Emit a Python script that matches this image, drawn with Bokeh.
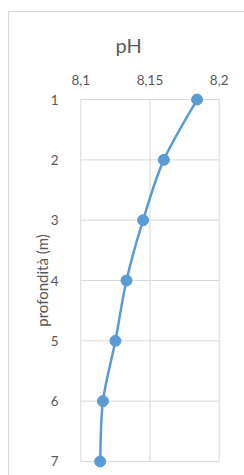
import numpy as np
from bokeh.plotting import figure
from bokeh.models import Range1d, FixedTicker
from bokeh.embed import file_html
from bokeh.resources import INLINE

depth = [1, 2, 3, 4, 5, 6, 7]
ph = [8.184, 8.160, 8.145, 8.133, 8.125, 8.116, 8.114]
x_ticks = [8.1, 8.15, 8.2]
x_tick_labels = {8.1: "8,1", 8.15: "8,15", 8.2: "8,2"}

FONT = "Lato"
GREY = "#595959"
GRID = "#d9d9d9"
BLUE = "#5b9bd5"

xpad = 0.006
ypad = 0.15

p = figure(width=235, height=463, output_backend="svg", toolbar_location=None,
           x_range=Range1d(x_ticks[0] - xpad, x_ticks[-1] + xpad),
           y_range=Range1d(depth[-1] + ypad, depth[0] - ypad),
           x_axis_location="above", title="pH",
           min_border_left=63, min_border_right=17, min_border_top=78, min_border_bottom=5,
           styles={"border-top": "1px solid #d9d9d9", "border-left": "1px solid #d9d9d9",
                   "margin-left": "8px", "margin-top": "11px"})
p.frame_width = 155
p.frame_height = 380

p.title.align = "left"
p.title.offset = 43
p.title.standoff = 30
p.title.text_font = FONT
p.title.text_font_size = "20px"
p.title.text_font_style = "normal"
p.title.text_color = GREY

p.xaxis.ticker = FixedTicker(ticks=x_ticks)
p.xaxis.major_label_overrides = x_tick_labels
p.yaxis.ticker = FixedTicker(ticks=depth)
for ax in (p.xaxis, p.yaxis):
    ax.axis_line_color = None
    ax.major_tick_line_color = None
    ax.minor_tick_line_color = None
    ax.major_label_text_font = FONT
    ax.major_label_text_font_size = "13.5px"
    ax.major_label_text_color = GREY
p.xaxis.major_label_standoff = 0
p.yaxis.major_label_standoff = 8
p.yaxis.axis_label = "profondità (m)"
p.yaxis.axis_label_text_font = FONT
p.yaxis.axis_label_text_font_size = "15px"
p.yaxis.axis_label_text_font_style = "normal"
p.yaxis.axis_label_text_color = GREY
p.yaxis.axis_label_standoff = -3

p.grid.grid_line_color = None
p.outline_line_color = None

# grid lines limited to the data extent
p.segment(x0=[x_ticks[0]] * len(depth), x1=[x_ticks[-1]] * len(depth), y0=depth, y1=depth,
          line_color=GRID, line_width=1)
p.segment(x0=x_ticks, x1=x_ticks, y0=[depth[0]] * len(x_ticks), y1=[depth[-1]] * len(x_ticks),
          line_color=GRID, line_width=1)

# smoothed connecting line (Excel-style), one cubic Bezier per pair of points
xs = np.array(ph)
ys = np.array(depth, dtype=float)
xe = np.concatenate([[xs[0]], xs, [xs[-1]]])
ye = np.concatenate([[ys[0]], ys, [ys[-1]]])
n = len(xs)
cx0 = xs[:-1] + (xe[2:n + 1] - xe[0:n - 1]) / 6
cy0 = ys[:-1] + (ye[2:n + 1] - ye[0:n - 1]) / 6
cx1 = xs[1:] - (xe[3:n + 2] - xe[1:n]) / 6
cy1 = ys[1:] - (ye[3:n + 2] - ye[1:n]) / 6
p.bezier(x0=xs[:-1], y0=ys[:-1], x1=xs[1:], y1=ys[1:],
         cx0=cx0, cy0=cy0, cx1=cx1, cy1=cy1, line_color=BLUE, line_width=2.5)

p.scatter(ph, depth, size=11, fill_color=BLUE, line_color=BLUE)

open("out.html", "w").write(file_html(p, INLINE))
